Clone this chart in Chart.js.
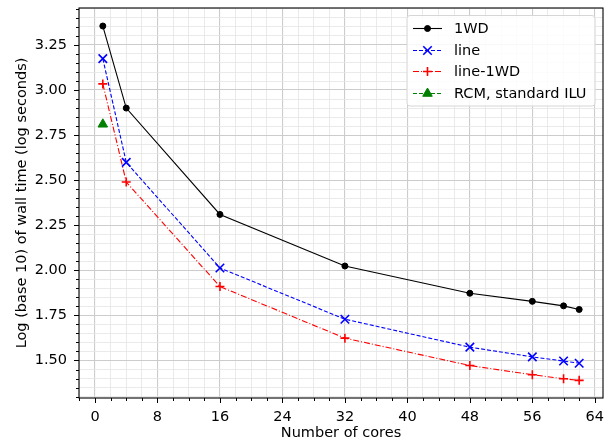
<!DOCTYPE html>
<html>
<head>
<meta charset="utf-8">
<script src="https://cdn.jsdelivr.net/npm/chart.js@4/dist/chart.umd.min.js"></script>
<style>
  html, body { margin: 0; padding: 0; background: #fff; }
  #wrap { width: 615px; height: 445px; position: relative; }
</style>
</head>
<body>
<div id="wrap"><canvas id="c" width="615" height="445"></canvas></div>
<script>
// cores used in the runs
const cores = [1, 4, 16, 32, 48, 56, 60, 62];
// log10 wall time per method
const oneWD   = [3.355, 2.900, 2.310, 2.024, 1.873, 1.828, 1.803, 1.783];
const lineVals = [3.174, 2.599, 2.013, 1.729, 1.574, 1.520, 1.497, 1.485];
const line1WD = [3.034, 2.490, 1.910, 1.624, 1.472, 1.421, 1.399, 1.390];
const rcmCores = [1];
const rcmVals = [2.81];

const xTickLabels = [0, 8, 16, 24, 32, 40, 48, 56, 64];
const yTickLabels = [1.50, 1.75, 2.00, 2.25, 2.50, 2.75, 3.00, 3.25];

const FONT = 'DejaVu Sans';
const FS = 14.5;

function pts(xs, ys) { return xs.map((x, i) => ({ x: x, y: ys[i] })); }

function isMajor(v, step) { return Math.abs(v / step - Math.round(v / step)) < 1e-6; }

// no extra room for the end labels, the plot area is fixed by layout padding
function noEdgePadding(scale) {
  scale.paddingTop = 0; scale.paddingBottom = 0;
  scale.paddingLeft = 0; scale.paddingRight = 0;
}

// frame, outside tick marks and legend (matplotlib look)
const framePlugin = {
  id: 'frame',
  afterDraw(chart) {
    const ctx = chart.ctx, a = chart.chartArea;
    const xs = chart.scales.x, ys = chart.scales.y;
    ctx.save();
    ctx.setLineDash([]);
    ctx.strokeStyle = '#000';
    ctx.lineWidth = 1.1;
    ctx.strokeRect(a.left, a.top, a.right - a.left, a.bottom - a.top);
    ctx.lineWidth = 1;
    xs.ticks.forEach(t => {
      const p = Math.round(xs.getPixelForValue(t.value)) + 0.5;
      const len = isMajor(t.value, 8) ? 5 : 3;
      ctx.beginPath(); ctx.moveTo(p, a.bottom); ctx.lineTo(p, a.bottom + len); ctx.stroke();
    });
    ys.ticks.forEach(t => {
      const p = Math.round(ys.getPixelForValue(t.value)) + 0.5;
      const len = isMajor(t.value, 0.25) ? 5 : 3;
      ctx.beginPath(); ctx.moveTo(a.left, p); ctx.lineTo(a.left - len, p); ctx.stroke();
    });

    // legend box
    const bx = 407, by = 15.5, bw = 188, bh = 90.5;
    ctx.fillStyle = 'rgba(255,255,255,0.85)';
    ctx.strokeStyle = '#d6d6d6';
    ctx.lineWidth = 1;
    ctx.beginPath();
    ctx.roundRect(bx, by, bw, bh, 3);
    ctx.fill(); ctx.stroke();
    const rowY = [28, 49.5, 71, 92.5];
    chart.data.datasets.forEach((ds, i) => {
      const y = Math.round(rowY[i]) + 0.5;
      const col = ds.borderColor;
      ctx.strokeStyle = col;
      ctx.fillStyle = col;
      ctx.lineWidth = ds.borderWidth;
      ctx.setLineDash(ds.borderDash || []);
      ctx.beginPath(); ctx.moveTo(413, y); ctx.lineTo(442, y); ctx.stroke();
      ctx.setLineDash([]);
      ctx.lineWidth = ds.pointBorderWidth;
      ctx.strokeStyle = col;
      ctx.fillStyle = col;
      Chart.helpers.drawPoint(ctx, {
        pointStyle: ds.pointStyle,
        radius: ds.pointRadius,
        rotation: 0,
        borderWidth: ds.pointBorderWidth
      }, 427.5, y);
      ctx.fillStyle = '#000';
      ctx.font = FS + 'px "' + FONT + '"';
      ctx.textBaseline = 'middle';
      ctx.textAlign = 'left';
      ctx.fillText(ds.label, 454, y + 1);
    });
    ctx.restore();
  }
};

const ctx = document.getElementById('c').getContext('2d');
new Chart(ctx, {
  type: 'line',
  data: {
    datasets: [
      {
        label: '1WD',
        data: pts(cores, oneWD),
        borderColor: '#000000',
        backgroundColor: '#000000',
        borderWidth: 1.1,
        pointStyle: 'circle',
        pointRadius: 3,
        pointBorderWidth: 1,
        pointBorderColor: '#000000',
        pointBackgroundColor: '#000000'
      },
      {
        label: 'line',
        data: pts(cores, lineVals),
        borderColor: '#0000ff',
        backgroundColor: '#0000ff',
        borderWidth: 1.1,
        borderDash: [4, 2],
        pointStyle: 'crossRot',
        pointRadius: 6,
        pointBorderWidth: 1.6,
        pointBorderColor: '#0000ff'
      },
      {
        label: 'line-1WD',
        data: pts(cores, line1WD),
        borderColor: '#ff0000',
        backgroundColor: '#ff0000',
        borderWidth: 1.1,
        borderDash: [6, 2, 1, 2],
        pointStyle: 'cross',
        pointRadius: 4.5,
        pointBorderWidth: 1.6,
        pointBorderColor: '#ff0000'
      },
      {
        label: 'RCM, standard ILU',
        data: pts(rcmCores, rcmVals),
        borderColor: '#008000',
        backgroundColor: '#008000',
        borderWidth: 1.1,
        borderDash: [4, 2],
        pointStyle: 'triangle',
        pointRadius: 5.5,
        pointBorderWidth: 1,
        pointBorderColor: '#008000',
        pointBackgroundColor: '#008000'
      }
    ]
  },
  options: {
    responsive: false,
    animation: false,
    layout: { padding: { left: 0, top: 8, right: 12, bottom: 0 } },
    plugins: { legend: { display: false }, tooltip: { enabled: false } },
    scales: {
      x: {
        type: 'linear',
        min: -2.05,
        max: 65.05,
        afterBuildTicks(scale) {
          const t = [];
          for (let v = -2; v <= 64; v += 2) t.push({ value: v });
          scale.ticks = t;
        },
        afterFit(scale) { scale.height = 47; noEdgePadding(scale); },
        ticks: {
          autoSkip: false,
          maxRotation: 0,
          padding: 11,
          color: '#000',
          font: { family: FONT, size: FS },
          callback: (v) => xTickLabels.includes(v) ? String(v) : ''
        },
        grid: {
          drawTicks: false,
          color: (c) => isMajor(c.tick.value, 8) ? '#cccccc' : '#e4e4e4',
          dash: (c) => isMajor(c.tick.value, 8) ? [] : [3, 2],
          lineWidth: (c) => isMajor(c.tick.value, 8) ? 1.1 : 0.8
        },
        border: { display: false },
        title: {
          display: true,
          text: 'Number of cores',
          color: '#000',
          font: { family: FONT, size: FS },
          padding: { top: 0, bottom: 3 }
        }
      },
      y: {
        type: 'linear',
        min: 1.292,
        max: 3.455,
        afterBuildTicks(scale) {
          const t = [];
          for (let k = 26; k <= 69; k++) t.push({ value: k * 0.05 });
          scale.ticks = t;
        },
        afterFit(scale) { scale.width = 79; noEdgePadding(scale); },
        ticks: {
          autoSkip: false,
          padding: 12,
          color: '#000',
          font: { family: FONT, size: FS },
          callback: (v) => {
            const lab = yTickLabels.find(l => Math.abs(l - v) < 1e-6);
            return lab !== undefined ? lab.toFixed(2) : '';
          }
        },
        grid: {
          drawTicks: false,
          color: (c) => isMajor(c.tick.value, 0.25) ? '#cccccc' : '#e4e4e4',
          dash: (c) => isMajor(c.tick.value, 0.25) ? [] : [3, 2],
          lineWidth: (c) => isMajor(c.tick.value, 0.25) ? 1.1 : 0.8
        },
        border: { display: false },
        title: {
          display: true,
          text: 'Log (base 10) of wall time (log seconds)',
          color: '#000',
          font: { family: FONT, size: FS },
          padding: { top: 14, bottom: 0 }
        }
      }
    }
  },
  plugins: [framePlugin]
});
</script>
</body>
</html>
